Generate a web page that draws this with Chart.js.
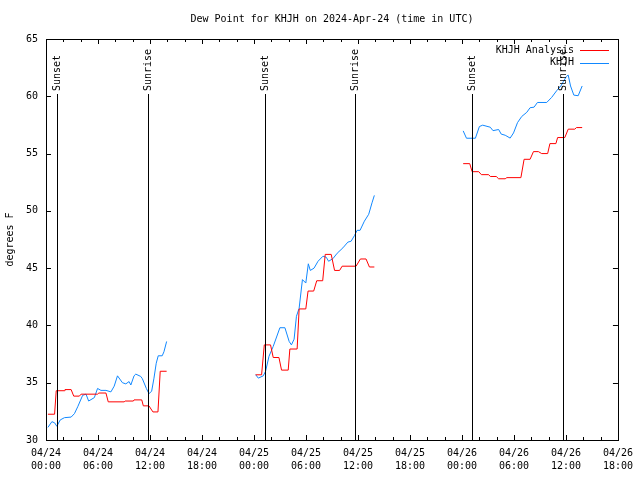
<!DOCTYPE html>
<html>
<head>
<meta charset="utf-8">
<script src="https://cdn.jsdelivr.net/npm/chart.js@4"></script>
<style>
  body { margin: 0; background: #fff; }
  #wrap { width: 640px; height: 480px; }
</style>
</head>
<body>
<div id="wrap"><canvas id="dewChart" width="640" height="480"></canvas></div>
<script>
'use strict';

const monoFont = 'DejaVu Sans Mono, Liberation Mono, monospace';

// hours since 04/24 00:00 UTC, null breaks the line
const analysisHours = [0.22, 0.99, 1.18, 2.13, 2.19, 2.9, 3.2, 3.85, 4.05, 5.95, 6.1, 6.92, 7.18, 9.02, 9.13, 10.08, 10.16, 11.05, 11.23, 11.88, 12.34, 12.92, 13.18, 13.92,
  19,
  24.19, 24.88, 25.19, 25.91, 26.22, 26.88, 27.18, 27.95, 28.14, 28.98, 29.21, 29.98, 30.24, 30.89, 31.24, 31.93, 32.22, 32.91, 33.3, 33.88, 34.17, 35.78, 36.28, 36.93, 37.32, 37.89,
  43,
  48.14, 48.9, 49.17, 49.94, 50.24, 51.08, 51.27, 51.96, 52.23, 52.99, 53.18, 54.8, 55.17, 55.86, 56.25, 56.82, 57.2, 57.89, 58.15, 58.84, 59.04, 59.87, 60.26, 61.02, 61.21, 61.87];
const analysisDew = [32.25, 32.25, 34.3, 34.3, 34.4, 34.4, 33.83, 33.83, 34.0, 34.0, 34.1, 34.1, 33.33, 33.33, 33.4, 33.4, 33.5, 33.5, 32.98, 32.98, 32.45, 32.45, 36.0, 36.0,
  null,
  35.69, 35.69, 38.3, 38.3, 37.2, 37.2, 36.1, 36.1, 37.94, 37.94, 41.44, 41.44, 43.0, 43.0, 43.9, 43.9, 46.2, 46.2, 44.8, 44.8, 45.17, 45.17, 45.8, 45.8, 45.1, 45.1,
  null,
  54.12, 54.12, 53.42, 53.42, 53.16, 53.16, 53.0, 53.0, 52.8, 52.8, 52.9, 52.9, 54.5, 54.5, 55.17, 55.17, 55.0, 55.0, 55.87, 55.87, 56.4, 56.4, 57.13, 57.13, 57.27, 57.27];

const khjhHours = [0.22, 0.68, 0.99, 1.25, 1.64, 2.13, 2.9, 3.28, 3.66, 4.23, 4.62, 4.92, 5.58, 5.95, 6.34, 6.92, 7.49, 7.87, 8.25, 8.82, 9.21, 9.59, 9.79, 10.16, 10.36, 10.93, 11.12, 11.58, 11.88, 12.19, 12.46, 12.72, 12.95, 13.41, 13.61, 13.92,
  19,
  24.19, 24.5, 25.07, 25.34, 25.73, 26.22, 26.99, 27.57, 28.06, 28.32, 28.63, 28.9, 29.21, 29.59, 29.98, 30.27, 30.5, 30.93, 31.39, 31.96, 32.34, 32.61, 33.11, 33.6, 34.26, 34.83, 35.21, 35.6, 35.9, 36.24, 36.74, 37.24, 37.62, 37.89,
  43,
  48.14, 48.52, 49.55, 50.01, 50.39, 51.27, 51.58, 52.23, 52.53, 52.99, 53.56, 53.95, 54.41, 54.9, 55.48, 55.86, 56.32, 56.71, 57.78, 58.35, 58.92, 59.41, 59.69, 60.06, 60.26, 60.53, 60.91, 61.41, 61.87];
const khjhDew = [31.1, 31.6, 31.5, 31.2, 31.75, 31.95, 32.0, 32.3, 32.9, 33.9, 34.0, 33.4, 33.7, 34.5, 34.33, 34.33, 34.2, 34.7, 35.6, 35.0, 34.9, 35.1, 34.8, 35.6, 35.75, 35.55, 35.35, 34.5, 34.05, 34.25, 35.4, 36.7, 37.35, 37.35, 37.7, 38.6,
  null,
  35.7, 35.4, 35.6, 36.0, 37.3, 38.17, 39.8, 39.8, 38.6, 38.3, 38.8, 40.8, 41.5, 44.0, 43.7, 45.38, 44.8, 45.0, 45.6, 46.04, 45.95, 45.6, 45.83, 46.3, 46.77, 47.27, 47.35, 47.85, 48.3, 48.3, 49.1, 49.7, 50.7, 51.35,
  null,
  56.98, 56.34, 56.34, 57.36, 57.48, 57.3, 57.0, 57.1, 56.7, 56.6, 56.35, 56.8, 57.7, 58.24, 58.6, 59.0, 59.05, 59.46, 59.46, 59.9, 60.48, 60.9, 61.27, 61.74, 61.85, 60.9, 60.1, 60.05, 60.9];

const sunHours = [1.22, 11.72, 25.23, 35.67, 49.2, 59.65];
const sunLabels = ['Sunset', 'Sunrise', 'Sunset', 'Sunrise', 'Sunset', 'Sunrise'];

const tickDates = ['04/24', '04/24', '04/24', '04/24', '04/25', '04/25', '04/25', '04/25', '04/26', '04/26', '04/26', '04/26'];
const tickTimes = ['00:00', '06:00', '12:00', '18:00', '00:00', '06:00', '12:00', '18:00', '00:00', '06:00', '12:00', '18:00'];

const seriesNames = ['KHJH Analysis', 'KHJH'];
const seriesColors = ['#ff0000', '#1188ff'];

function toPoints(hours, values) {
  return hours.map((h, i) => ({x: h, y: values[i]}));
}

// gnuplot style frame: border, inward ticks, sun lines, title and key
const framePlugin = {
  id: 'frame',
  afterDatasetsDraw(chart) {
    const ctx = chart.ctx;
    const area = chart.chartArea;
    const xs = chart.scales.x;
    const ys = chart.scales.y;
    ctx.save();
    ctx.strokeStyle = '#000';
    ctx.lineWidth = 1;

    // sunrise / sunset markers
    ctx.font = '10px ' + monoFont;
    ctx.fillStyle = '#000';
    sunHours.forEach((h, i) => {
      const px = Math.round(xs.getPixelForValue(h)) + 0.5;
      ctx.beginPath();
      ctx.moveTo(px, area.top + 55);
      ctx.lineTo(px, area.bottom);
      ctx.stroke();
      ctx.save();
      ctx.translate(px, area.top + 52);
      ctx.rotate(-Math.PI / 2);
      ctx.textAlign = 'left';
      ctx.textBaseline = 'middle';
      ctx.fillText(sunLabels[i], 0, 0);
      ctx.restore();
    });

    // border
    ctx.strokeRect(Math.round(area.left) + 0.5, Math.round(area.top) + 0.5,
      Math.round(area.right - area.left), Math.round(area.bottom - area.top));

    // x ticks every 2 h, major every 6 h
    ctx.beginPath();
    for (let h = 0; h <= 66; h += 2) {
      const px = Math.round(xs.getPixelForValue(h)) + 0.5;
      const len = h % 6 === 0 ? 5 : 3;
      ctx.moveTo(px, area.bottom);
      ctx.lineTo(px, area.bottom - len);
      ctx.moveTo(px, area.top);
      ctx.lineTo(px, area.top + len);
    }
    for (let v = 30; v <= 65; v += 5) {
      const py = Math.round(ys.getPixelForValue(v)) + 0.5;
      ctx.moveTo(area.left, py);
      ctx.lineTo(area.left + 5, py);
      ctx.moveTo(area.right, py);
      ctx.lineTo(area.right - 5, py);
    }
    ctx.stroke();

    // title
    ctx.textAlign = 'center';
    ctx.textBaseline = 'middle';
    ctx.fillText('Dew Point for KHJH on 2024-Apr-24 (time in UTC)', (area.left + area.right) / 2, 19);

    // key
    ctx.textAlign = 'right';
    seriesNames.forEach((name, i) => {
      const y = 50 + i * 12.5;
      ctx.fillStyle = '#000';
      ctx.fillText(name, 574, y);
      ctx.strokeStyle = seriesColors[i];
      ctx.beginPath();
      ctx.moveTo(580, Math.round(y) + 0.5);
      ctx.lineTo(609, Math.round(y) + 0.5);
      ctx.stroke();
    });
    ctx.restore();
  },
};

new Chart(document.getElementById('dewChart'), {
  type: 'line',
  data: {
    datasets: [
      {
        label: seriesNames[0],
        data: toPoints(analysisHours, analysisDew),
        borderColor: seriesColors[0],
        borderWidth: 1,
        pointRadius: 0,
        tension: 0,
        spanGaps: false,
      },
      {
        label: seriesNames[1],
        data: toPoints(khjhHours, khjhDew),
        borderColor: seriesColors[1],
        borderWidth: 1,
        pointRadius: 0,
        tension: 0,
        spanGaps: false,
      },
    ],
  },
  options: {
    responsive: false,
    animation: false,
    events: [],
    layout: {
      padding: {top: 39, right: 18, left: 0, bottom: 0},
    },
    scales: {
      x: {
        type: 'linear',
        min: 0,
        max: 66,
        grid: {display: false, drawTicks: false},
        border: {display: false},
        afterFit: (scale) => { scale.height = 40; },
        ticks: {
          stepSize: 6,
          padding: 7,
          autoSkip: false,
          maxRotation: 0,
          color: '#000',
          font: {family: monoFont, size: 10, lineHeight: 1.3},
          callback: (value) => {
            const i = Math.round(value / 6);
            return [tickDates[i], tickTimes[i]];
          },
        },
      },
      y: {
        min: 30,
        max: 65,
        grid: {display: false, drawTicks: false},
        border: {display: false},
        afterFit: (scale) => { scale.width = 46; },
        ticks: {
          stepSize: 5,
          padding: 8,
          color: '#000',
          font: {family: monoFont, size: 10},
        },
        title: {
          display: true,
          text: 'degrees F',
          color: '#000',
          padding: {top: 4, bottom: 0},
          font: {family: monoFont, size: 10},
        },
      },
    },
    plugins: {
      legend: {display: false},
      title: {display: false},
      tooltip: {enabled: false},
    },
  },
  plugins: [framePlugin],
});
</script>
</body>
</html>
